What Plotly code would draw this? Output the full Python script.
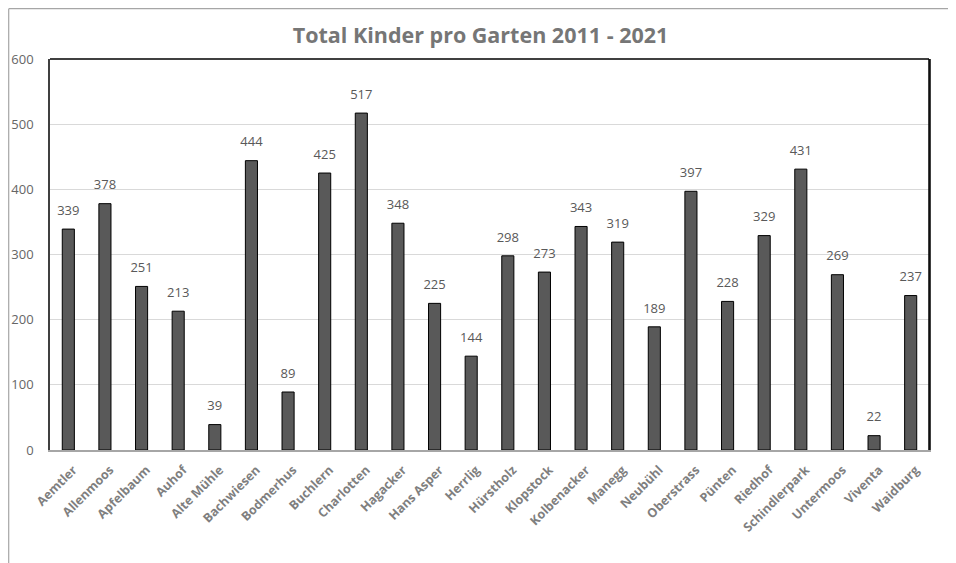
import plotly.graph_objects as go

categories = ["Aemtler", "Allenmoos", "Apfelbaum", "Auhof", "Alte Mühle", "Bachwiesen",
              "Bodmerhus", "Buchlern", "Charlotten", "Hagacker", "Hans Asper", "Herrlig",
              "Hürstholz", "Klopstock", "Kolbenacker", "Manegg", "Neubühl", "Oberstrass",
              "Pünten", "Riedhof", "Schindlerpark", "Untermoos", "Viventa", "Waidburg"]
values = [339, 378, 251, 213, 39, 444, 89, 425, 517, 348, 225, 144,
          298, 273, 343, 319, 189, 397, 228, 329, 431, 269, 22, 237]
y_ticks = [0, 100, 200, 300, 400, 500, 600]

# page is rendered with an 8px body margin, so the figure is sized to fit inside it
W, H = 948, 555
L, T = 42, 51
pw, ph = 879, 391
R = W - L - pw
B = H - T - ph

FONT = "Open Sans, sans-serif"

def px(x):
    return (x - L) / pw

def py(y):
    return (T + ph - y) / ph

fig = go.Figure()
fig.add_trace(go.Bar(
    x=categories, y=values,
    marker=dict(color="#595959", line=dict(color="#000000", width=1)),
    width=0.33, hoverinfo="x+y",
))
fig.add_trace(go.Scatter(
    x=categories, y=values, mode="markers+text",
    marker=dict(size=16, opacity=0),
    text=[str(v) for v in values], textposition="top center",
    textfont=dict(family=FONT, size=13, color="#595959"),
    cliponaxis=False, hoverinfo="skip",
))

fig.update_layout(
    width=W, height=H,
    margin=dict(l=L, r=R, t=T, b=B, autoexpand=False),
    paper_bgcolor="white", plot_bgcolor="white",
    title=dict(text="<b>Total Kinder pro Garten 2011 - 2021</b>", x=(481 - 8 - 0.5) / W, xanchor="center",
               y=1 - 27 / H, yanchor="middle",
               font=dict(family=FONT, size=21.5, color="#767676")),
    showlegend=False,
    font=dict(family=FONT),
)
fig.update_xaxes(
    range=[-0.5, len(categories) - 0.5], automargin=False,
    tickangle=-45, showgrid=False,
    tickfont=dict(family=FONT, size=12.5, color="#7f7f7f", weight="bold"),
    showline=True, linecolor="#a6a6a6", linewidth=1.5,
    ticks="", ticklabelstandoff=6, ticklabelshift=5,
)
fig.update_yaxes(
    range=[0, 600], tickvals=y_ticks, showgrid=True, gridcolor="#d9d9d9", gridwidth=1,
    automargin=False,
    tickfont=dict(family=FONT, size=13, color="#666666"),
    showline=True, linecolor="#404040", linewidth=1.5, mirror=True, zeroline=False,
    ticklabelstandoff=12,
)
fig.add_shape(type="line", xref="paper", yref="paper", x0=0, x1=1, y0=1, y1=1,
              line=dict(color="#000000", width=1.5))
fig.add_shape(type="line", xref="paper", yref="paper", x0=1, x1=1, y0=0, y1=1,
              line=dict(color="#000000", width=1.5))
# outer chart frame (top and left), as close to the page edge as the figure allows
fig.add_shape(type="line", xref="paper", yref="paper", x0=px(0.7), x1=px(W + 5), y0=py(0.7), y1=py(0.7),
              line=dict(color="#a6a6a6", width=1.2))
fig.add_shape(type="line", xref="paper", yref="paper", x0=px(0.7), x1=px(0.7), y0=py(0.7), y1=py(H + 5),
              line=dict(color="#a6a6a6", width=1.2))

fig.write_html("out.html")
